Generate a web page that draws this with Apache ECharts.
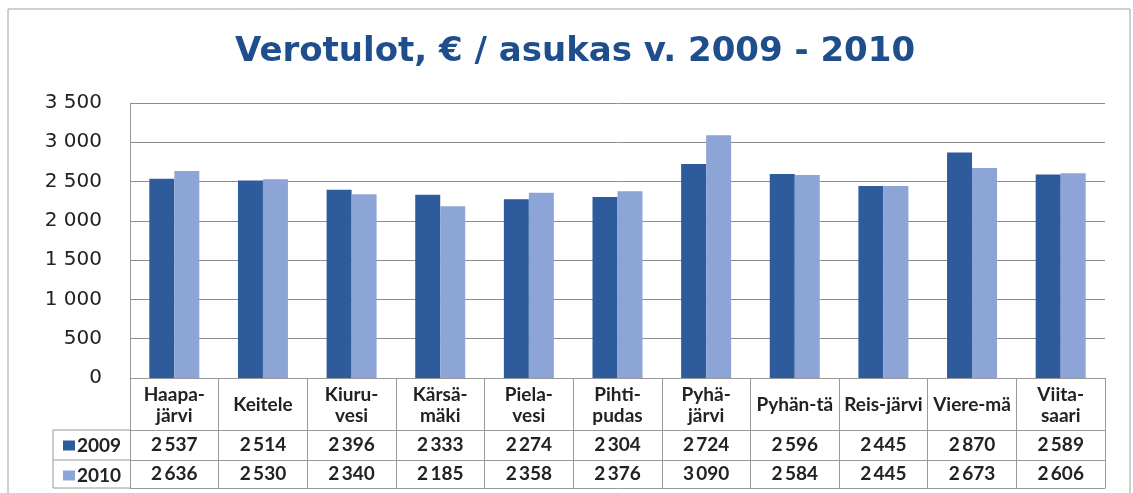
<!DOCTYPE html>
<html>
<head>
<meta charset="utf-8">
<script src="https://cdn.jsdelivr.net/npm/echarts@6/dist/echarts.min.js"></script>
<style>
  html, body { margin: 0; padding: 0; background: #fff; }
  #chart { width: 1133px; height: 493px; }
</style>
</head>
<body>
<div id="chart"></div>
<script>
// kunnat ja verotulot
var categories = ["Haapa-\njärvi", "Keitele", "Kiuru-\nvesi", "Kärsä-\nmäki", "Piela-\nvesi",
  "Pihti-\npudas", "Pyhä-\njärvi", "Pyhän-tä", "Reis-järvi", "Viere-mä", "Viita-\nsaari"];
var years = ["2009", "2010"];
var values2009 = [2537, 2514, 2396, 2333, 2274, 2304, 2724, 2596, 2445, 2870, 2589];
var values2010 = [2636, 2530, 2340, 2185, 2358, 2376, 3090, 2584, 2445, 2673, 2606];
var yMin = 0, yMax = 3500, yStep = 500;

var colors = ["#2d5b9b", "#8da4d6"];
var font = "Lato";

function fmt(v, sep) {
  var s = String(v);
  return s.length > 3 ? s.slice(0, s.length - 3) + (sep || "\u2009") + s.slice(-3) : s;
}

var chart = echarts.init(document.getElementById("chart"));

function rowAxis(offset, margin, vals) {
  return {
    type: "category",
    position: "bottom",
    offset: offset,
    data: categories,
    axisLine: { show: true, lineStyle: { color: "#9a9a9a", width: 1 } },
    axisTick: { show: false },
    axisLabel: {
      interval: 0,
      margin: margin,
      verticalAlign: "middle",
      fontFamily: font,
      fontSize: 19,
      fontWeight: "bold",
      color: "#222",
      formatter: function (val, i) { return vals ? fmt(vals[i]) : ""; }
    }
  };
}

chart.setOption({
  animation: false,
  color: colors,
  title: {
    text: "Verotulot, € / asukas v. 2009 - 2010",
    left: 570,
    textAlign: "center",
    top: 30,
    textStyle: { fontFamily: "DejaVu Sans", fontSize: 34, fontWeight: "bold", color: "#1f4e8c" }
  },
  legend: {
    data: years,
    orient: "vertical",
    left: 63,
    top: 436,
    padding: 0,
    itemWidth: 12,
    itemHeight: 10,
    itemGap: 11,
    icon: "rect",
    textStyle: { fontFamily: font, fontSize: 19, fontWeight: "bold", color: "#222", lineHeight: 19, padding: [0, 0, 0, -3] }
  },
  grid: { left: 130, right: 28, top: 103, bottom: 115 },
  xAxis: [
    {
      type: "category",
      position: "bottom",
      data: categories,
      axisLine: { show: true, lineStyle: { color: "#9a9a9a", width: 1 } },
      axisTick: { show: true, interval: 0, length: 110, lineStyle: { color: "#9a9a9a" } },
      axisLabel: {
        interval: 0,
        margin: 27,
        verticalAlign: "middle",
        fontFamily: font,
        fontSize: 19,
        fontWeight: "bold",
        color: "#222",
        lineHeight: 21
      }
    },
    rowAxis(52, 15, values2009),
    rowAxis(82, 14, values2010),
    rowAxis(110, 0, null)
  ],
  yAxis: {
    type: "value",
    min: yMin,
    max: yMax,
    interval: yStep,
    axisLine: { show: true, lineStyle: { color: "#9a9a9a" } },
    axisTick: { show: false },
    splitLine: { lineStyle: { color: "#8c8c8c", width: 1 } },
    axisLabel: {
      margin: 28,
      fontFamily: "DejaVu Sans",
      fontSize: 20,
      color: "#222",
      formatter: function (v) { return fmt(v, " "); }
    }
  },
  series: [
    { name: years[0], type: "bar", data: values2009, barWidth: 25, barGap: "0%" },
    { name: years[1], type: "bar", data: values2010, barWidth: 25, barGap: "0%" }
  ],
  graphic: [
    // kehys
    { type: "rect", shape: { x: 8, y: 9, width: 1122, height: 500 }, style: { fill: null, stroke: "#a0a0a0", lineWidth: 1 } },
    // selitesarakkeen viivat
    { type: "line", shape: { x1: 53, y1: 430, x2: 130, y2: 430 }, style: { stroke: "#9a9a9a" } },
    { type: "line", shape: { x1: 53, y1: 460, x2: 130, y2: 460 }, style: { stroke: "#9a9a9a" } },
    { type: "line", shape: { x1: 53, y1: 488, x2: 130, y2: 488 }, style: { stroke: "#9a9a9a" } },
    { type: "line", shape: { x1: 53, y1: 430, x2: 53, y2: 488 }, style: { stroke: "#9a9a9a" } }
  ]
});
</script>
</body>
</html>
